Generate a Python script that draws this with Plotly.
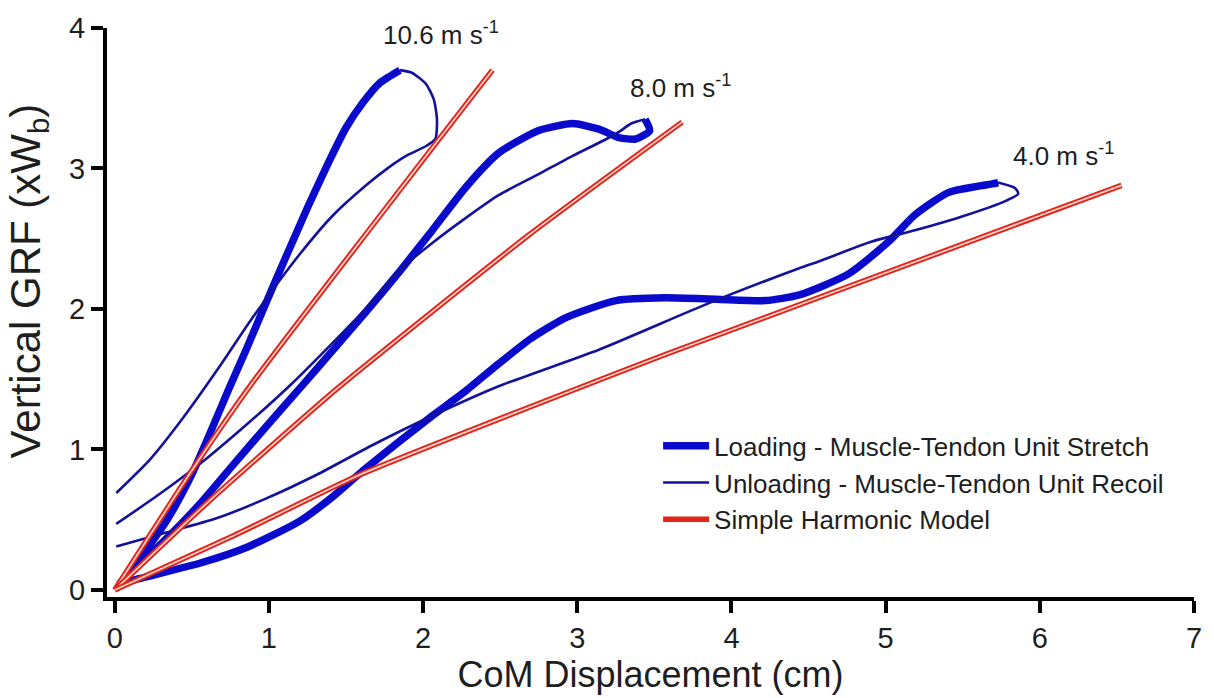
import plotly.graph_objects as go

# ---------------- data ----------------
# 10.6 m/s
x_load_106 = [0.03, 0.18, 0.34, 0.49, 0.62, 0.74, 0.86, 0.98, 1.11, 1.25, 1.39, 1.50, 1.61, 1.72, 1.85]
y_load_106 = [0.04, 0.25, 0.50, 0.80, 1.12, 1.43, 1.73, 2.04, 2.37, 2.72, 3.05, 3.29, 3.47, 3.61, 3.70]
x_unload_106 = [1.85, 1.93, 2.02, 2.07, 2.09, 2.08, 2.02, 1.89, 1.78, 1.63, 1.41, 1.20, 1.02, 0.87, 0.68, 0.44, 0.23, 0.01]
y_unload_106 = [3.70, 3.68, 3.60, 3.49, 3.35, 3.21, 3.16, 3.09, 3.01, 2.88, 2.66, 2.39, 2.13, 1.90, 1.59, 1.22, 0.93, 0.69]
x_shm_106 = [0.00, 0.50, 0.89, 2.02, 2.45]
y_shm_106 = [0.00, 0.85, 1.47, 3.09, 3.70]

# 8.0 m/s
x_load_80 = [0.03, 0.12, 0.34, 0.55, 0.76, 0.98, 1.22, 1.41, 1.63, 1.85, 2.06, 2.28, 2.49, 2.75, 2.97, 3.14, 3.27, 3.38, 3.47, 3.44]
y_load_80 = [0.04, 0.14, 0.37, 0.61, 0.88, 1.16, 1.46, 1.70, 1.98, 2.27, 2.56, 2.87, 3.11, 3.27, 3.32, 3.28, 3.22, 3.21, 3.27, 3.35]
x_unload_80 = [3.44, 3.35, 3.27, 3.19, 2.97, 2.75, 2.49, 2.28, 2.06, 1.85, 1.72, 1.45, 1.15, 0.90, 0.60, 0.30, 0.01]
y_unload_80 = [3.35, 3.32, 3.26, 3.21, 3.09, 2.96, 2.81, 2.65, 2.47, 2.28, 2.11, 1.80, 1.47, 1.22, 0.94, 0.69, 0.47]
x_shm_80 = [0.00, 0.60, 1.45, 2.69, 3.68]
y_shm_80 = [0.00, 0.62, 1.44, 2.53, 3.33]

# 4.0 m/s
x_load_40 = [0.03, 0.12, 0.55, 0.87, 1.20, 1.41, 1.59, 1.85, 2.06, 2.28, 2.49, 2.70, 2.93, 3.25, 3.57, 3.90, 4.22, 4.44, 4.76, 5.02, 5.19, 5.41, 5.69, 5.73]
y_load_40 = [0.04, 0.07, 0.19, 0.31, 0.49, 0.66, 0.83, 1.06, 1.24, 1.42, 1.61, 1.79, 1.94, 2.06, 2.08, 2.07, 2.06, 2.10, 2.25, 2.48, 2.67, 2.83, 2.89, 2.90]
x_unload_40 = [5.73, 5.84, 5.86, 5.78, 5.50, 5.19, 4.91, 4.57, 4.44, 3.85, 3.14, 2.49, 2.06, 1.67, 1.31, 0.98, 0.66, 0.34, 0.01]
y_unload_40 = [2.90, 2.86, 2.82, 2.77, 2.66, 2.56, 2.48, 2.34, 2.29, 2.04, 1.71, 1.45, 1.24, 1.03, 0.82, 0.65, 0.51, 0.41, 0.31]
x_shm_40 = [0.00, 0.76, 1.59, 3.58, 6.53]
y_shm_40 = [0.00, 0.38, 0.82, 1.68, 2.88]

speed_labels = ["10.6 m s<sup>-1</sup>", "8.0 m s<sup>-1</sup>", "4.0 m s<sup>-1</sup>"]
label_x = [1.73, 3.33, 5.81]
label_y = [3.83, 3.45, 2.97]

x_ticks = [0, 1, 2, 3, 4, 5, 6, 7]
y_ticks = [0, 1, 2, 3, 4]

# ---------------- styling ----------------
THICK = "#0a0acc"
THIN = "#12129a"
RED = "#e3241b"
CORE = "#f8d4c8"
FONT = "Arial, Liberation Sans, sans-serif"
TXT = "#1e1e1e"

fig = go.Figure()

loads = [(x_load_106, y_load_106), (x_load_80, y_load_80), (x_load_40, y_load_40)]
unloads = [(x_unload_106, y_unload_106), (x_unload_80, y_unload_80), (x_unload_40, y_unload_40)]
shms = [(x_shm_106, y_shm_106), (x_shm_80, y_shm_80), (x_shm_40, y_shm_40)]

for i in range(3):
    fig.add_trace(go.Scatter(x=loads[i][0], y=loads[i][1], mode="lines",
                             line=dict(color=THICK, width=7.5, shape="spline", smoothing=0.6),
                             name="Loading - Muscle-Tendon Unit Stretch", legendgroup="load",
                             showlegend=(i == 0), hoverinfo="skip"))
    fig.add_trace(go.Scatter(x=unloads[i][0], y=unloads[i][1], mode="lines",
                             line=dict(color=THIN, width=2.6, shape="spline", smoothing=0.6),
                             name="Unloading - Muscle-Tendon Unit Recoil", legendgroup="unload",
                             showlegend=(i == 0), hoverinfo="skip"))

for i in range(3):
    fig.add_trace(go.Scatter(x=shms[i][0], y=shms[i][1], mode="lines",
                             line=dict(color=RED, width=5.5, shape="spline", smoothing=0.5),
                             name="Simple Harmonic Model", legendgroup="shm",
                             showlegend=(i == 0), hoverinfo="skip"))
    fig.add_trace(go.Scatter(x=shms[i][0], y=shms[i][1], mode="lines",
                             line=dict(color=CORE, width=1.7, shape="spline", smoothing=0.5),
                             legendgroup="shm", showlegend=False, hoverinfo="skip"))

for lbl, lx, ly in zip(speed_labels, label_x, label_y):
    fig.add_annotation(x=lx, y=ly, text=lbl, showarrow=False, xanchor="left", yanchor="bottom",
                       font=dict(family=FONT, size=26, color=TXT))

# y-axis title as annotation for exact placement
fig.add_annotation(text="Vertical GRF (xW<sub>b</sub>)", xref="paper", yref="paper",
                   x=-0.0725, y=0.555, xanchor="center", yanchor="middle",
                   showarrow=False, textangle=-90,
                   font=dict(family=FONT, size=42, color=TXT))

axis_common = dict(showgrid=False, zeroline=False, showline=True, linecolor="black", linewidth=4,
                   ticks="outside", ticklen=12, tickwidth=4, tickcolor="black",
                   tickfont=dict(family=FONT, size=29, color=TXT), mirror=False)

fig.update_xaxes(range=[-0.05, 7], tickvals=x_ticks, ticktext=[str(v) for v in x_ticks],
                 title=dict(text="CoM Displacement (cm)", font=dict(family=FONT, size=36, color=TXT),
                            standoff=2),
                 **axis_common)
fig.update_yaxes(range=[-0.05, 4], tickvals=y_ticks, ticktext=[str(v) for v in y_ticks], **axis_common)

fig.update_layout(
    width=1214, height=698,
    margin=dict(l=107, r=18, t=20, b=101),
    plot_bgcolor="white", paper_bgcolor="white",
    font=dict(family=FONT, color=TXT),
    legend=dict(x=0.507, y=0.307, xanchor="left", yanchor="top", bgcolor="rgba(0,0,0,0)",
                font=dict(family=FONT, size=26, color=TXT), itemwidth=46, tracegroupgap=0,
                traceorder="normal"),
    showlegend=True,
)

fig.write_html("out.html")
